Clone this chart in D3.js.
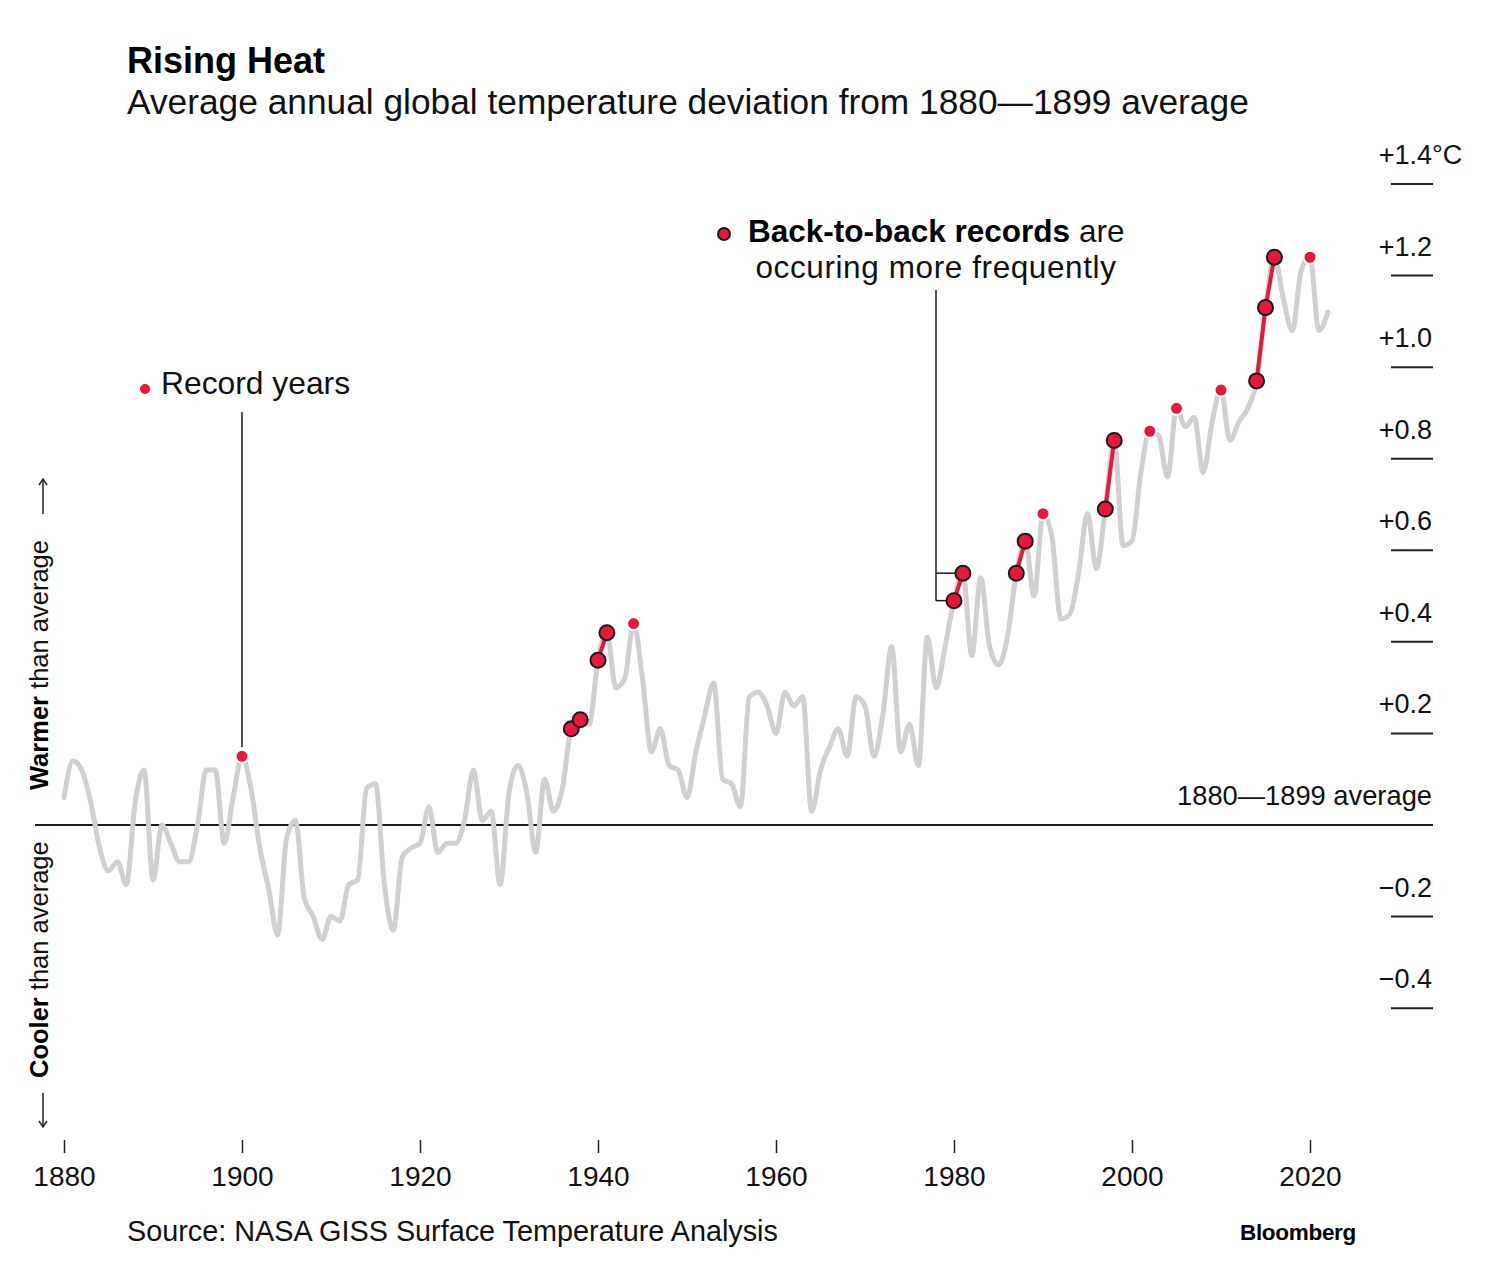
<!DOCTYPE html>
<html>
<head>
<meta charset="utf-8">
<script src="https://cdn.jsdelivr.net/npm/d3@7/dist/d3.min.js"></script>
<style>
  html, body { margin: 0; padding: 0; background: #fff; }
  svg { display: block; }
  text { font-family: "Liberation Sans", Arial, Helvetica, sans-serif; fill: #111; }
</style>
</head>
<body>
<svg id="chart" width="1492" height="1266"></svg>
<script>
// ---- DATA ----
const startYear = 1880;
// Annual deviation (°C) from the 1880–1899 average
const anomalies = [
  0.06, 0.14, 0.12, 0.05, -0.05, -0.10, -0.08, -0.13, 0.05, 0.12,   // 1880-1889
  -0.12, 0.00, -0.04, -0.08, -0.08, 0.00, 0.12, 0.12, -0.04, 0.06,  // 1890-1899
  0.15, 0.08, -0.05, -0.14, -0.24, -0.03, 0.01, -0.16, -0.20, -0.25, // 1900-1909
  -0.20, -0.21, -0.13, -0.12, 0.08, 0.09, -0.13, -0.23, -0.07, -0.05, // 1910-1919
  -0.04, 0.04, -0.06, -0.04, -0.04, 0.01, 0.12, 0.01, 0.03, -0.13,   // 1920-1929
  0.07, 0.13, 0.07, -0.06, 0.10, 0.03, 0.08, 0.21, 0.23, 0.22,       // 1930-1939
  0.36, 0.42, 0.30, 0.32, 0.44, 0.32, 0.16, 0.21, 0.13, 0.12,        // 1940-1949
  0.06, 0.16, 0.24, 0.31, 0.10, 0.09, 0.04, 0.28, 0.29, 0.26,        // 1950-1959
  0.20, 0.29, 0.26, 0.28, 0.03, 0.12, 0.17, 0.21, 0.15, 0.28,        // 1960-1969
  0.26, 0.15, 0.24, 0.39, 0.16, 0.22, 0.13, 0.41, 0.30, 0.39,        // 1970-1979
  0.49, 0.55, 0.37, 0.54, 0.39, 0.35, 0.41, 0.55, 0.62, 0.50,        // 1980-1989
  0.68, 0.63, 0.45, 0.46, 0.55, 0.68, 0.56, 0.69, 0.84, 0.61,        // 1990-1999
  0.62, 0.77, 0.86, 0.85, 0.76, 0.91, 0.87, 0.89, 0.77, 0.88,        // 2000-2009
  0.95, 0.84, 0.88, 0.91, 0.97, 1.13, 1.24, 1.15, 1.08, 1.21,        // 2010-2019
  1.24, 1.08, 1.12                                                   // 2020-2022
];
const years = anomalies.map((_, i) => startYear + i);
const recordYears = [1900, 1937, 1938, 1940, 1941, 1944, 1980, 1981, 1987, 1988,
                     1990, 1997, 1998, 2002, 2005, 2010, 2014, 2015, 2016, 2020];
const xTickValues = [1880, 1900, 1920, 1940, 1960, 1980, 2000, 2020];
const yTickValues = [1.4, 1.2, 1.0, 0.8, 0.6, 0.4, 0.2, -0.2, -0.4];
const yTickLabels = ["+1.4", "+1.2", "+1.0", "+0.8", "+0.6", "+0.4", "+0.2", "\u22120.2", "\u22120.4"];

// ---- SETUP ----
const data = years.map((y, i) => ({ year: y, value: anomalies[i] }));
const valueByYear = new Map(data.map(d => [d.year, d.value]));

// group consecutive record years into back-to-back streaks
const streaks = [];
let cur = [];
recordYears.forEach((y) => {
  if (cur.length && y === cur[cur.length - 1] + 1) cur.push(y);
  else { if (cur.length > 1) streaks.push(cur); cur = [y]; }
});
if (cur.length > 1) streaks.push(cur);
const streakYears = new Set(streaks.flat());

const RED = "#e8173c";
const GRAY = "#d0d0d0";
const DARK = "#1a1a1a";

const svg = d3.select("#chart");
const x = d3.scaleLinear().domain([1880, 2020]).range([64, 1310]);
const y = d3.scaleLinear().domain([0, 1.4]).range([825, 184]);

// ---- TITLE ----
svg.append("text").attr("x", 127).attr("y", 73)
  .style("font-size", "36px").style("font-weight", "bold").style("fill", "#000")
  .text("Rising Heat");
svg.append("text").attr("x", 127).attr("y", 114)
  .style("font-size", "35.3px").style("fill", "#111")
  .text("Average annual global temperature deviation from 1880\u20141899 average");

// ---- RIGHT AXIS (ticks + labels) ----
const yAxisG = svg.append("g");
yTickValues.forEach((v, i) => {
  yAxisG.append("line")
    .attr("x1", 1391).attr("x2", 1433)
    .attr("y1", y(v)).attr("y2", y(v))
    .attr("stroke", "#222").attr("stroke-width", 2);
  yAxisG.append("text")
    .attr("x", 1432).attr("y", y(v) - 20)
    .attr("text-anchor", "end")
    .style("font-size", "27px")
    .text(yTickLabels[i]);
  if (i === 0) {
    yAxisG.append("text").attr("x", 1432).attr("y", y(v) - 20)
      .style("font-size", "27px").text("\u00B0C");
  }
});

// Zero / baseline
svg.append("line")
  .attr("x1", 35).attr("x2", 1433)
  .attr("y1", y(0)).attr("y2", y(0))
  .attr("stroke", DARK).attr("stroke-width", 2);
svg.append("text").attr("x", 1432).attr("y", y(0) - 20)
  .attr("text-anchor", "end").style("font-size", "27.3px")
  .text("1880\u20141899 average");

// ---- X AXIS ----
const xAxis = d3.axisBottom(x).tickValues(xTickValues).tickFormat(d3.format("d")).tickSize(13);
const xg = svg.append("g").attr("transform", "translate(0,1140)").call(xAxis);
xg.select(".domain").remove();
xg.selectAll(".tick line").attr("stroke", "#222").attr("stroke-width", 1.5);
xg.selectAll(".tick text")
  .attr("y", 46).attr("dy", 0)
  .style("font-size", "28px").style("font-family", "'Liberation Sans', Arial, sans-serif")
  .style("fill", "#111");

// ---- LINE ----
const line = d3.line()
  .x(d => x(d.year))
  .y(d => y(d.value))
  .curve(d3.curveMonotoneX);

svg.append("path")
  .datum(data)
  .attr("fill", "none")
  .attr("stroke", GRAY)
  .attr("stroke-width", 5)
  .attr("stroke-linejoin", "round")
  .attr("stroke-linecap", "round")
  .attr("d", line);

// ---- ANNOTATIONS (leaders) ----
// Record years
svg.append("line")
  .attr("x1", x(1900)).attr("x2", x(1900))
  .attr("y1", 412).attr("y2", y(valueByYear.get(1900)) - 9)
  .attr("stroke", DARK).attr("stroke-width", 1.5);
svg.append("circle").attr("cx", 145).attr("cy", 389).attr("r", 5).attr("fill", RED);
svg.append("text").attr("x", 161).attr("y", 394)
  .style("font-size", "31.8px").text("Record years");

// Back-to-back
const bx = 936;
svg.append("line")
  .attr("x1", bx).attr("x2", bx)
  .attr("y1", 290).attr("y2", y(valueByYear.get(1980)))
  .attr("stroke", DARK).attr("stroke-width", 1.5);
svg.append("line")
  .attr("x1", bx).attr("x2", x(1980))
  .attr("y1", y(valueByYear.get(1980))).attr("y2", y(valueByYear.get(1980)))
  .attr("stroke", DARK).attr("stroke-width", 1.5);
svg.append("line")
  .attr("x1", bx).attr("x2", x(1981))
  .attr("y1", y(valueByYear.get(1981))).attr("y2", y(valueByYear.get(1981)))
  .attr("stroke", DARK).attr("stroke-width", 1.5);

svg.append("circle").attr("cx", 724).attr("cy", 234).attr("r", 6)
  .attr("fill", RED).attr("stroke", DARK).attr("stroke-width", 2);
const t1 = svg.append("text").attr("x", 748).attr("y", 242).style("font-size", "31.5px");
t1.append("tspan").style("font-weight", "bold").style("fill", "#000").text("Back-to-back records");
t1.append("tspan").text(" are");
svg.append("text").attr("x", bx).attr("y", 278).attr("text-anchor", "middle")
  .style("font-size", "31.5px").style("letter-spacing", "0.6px")
  .text("occuring more frequently");

// ---- STREAK LINES ----
streaks.forEach(s => {
  svg.append("path")
    .datum(s.map(yr => ({ year: yr, value: valueByYear.get(yr) })))
    .attr("fill", "none")
    .attr("stroke", RED)
    .attr("stroke-width", 4)
    .attr("d", d3.line().x(d => x(d.year)).y(d => y(d.value)));
});

// ---- RECORD DOTS ----
const recData = recordYears.map(yr => ({ year: yr, value: valueByYear.get(yr) }));
svg.append("g").selectAll("circle")
  .data(recData.filter(d => !streakYears.has(d.year)))
  .join("circle")
  .attr("cx", d => x(d.year)).attr("cy", d => y(d.value))
  .attr("r", 6.5).attr("fill", RED).attr("stroke", "#fff").attr("stroke-width", 2);
svg.append("g").selectAll("circle")
  .data(recData.filter(d => streakYears.has(d.year)))
  .join("circle")
  .attr("cx", d => x(d.year)).attr("cy", d => y(d.value))
  .attr("r", 7.5).attr("fill", RED).attr("stroke", DARK).attr("stroke-width", 2);

// ---- LEFT VERTICAL LABELS ----
function vLabel(yStart, boldWord) {
  const t = svg.append("text")
    .attr("transform", `translate(48,${yStart}) rotate(-90)`)
    .style("font-size", "25.5px");
  t.append("tspan").style("font-weight", "bold").style("fill", "#000").text(boldWord);
  t.append("tspan").text(" than average");
}
vLabel(790, "Warmer");
vLabel(1078, "Cooler");

// arrows
function arrow(x0, y0, y1) {
  const dir = Math.sign(y1 - y0);
  svg.append("line").attr("x1", x0).attr("x2", x0).attr("y1", y0).attr("y2", y1)
    .attr("stroke", "#222").attr("stroke-width", 1.5);
  svg.append("path")
    .attr("d", `M${x0 - 4},${y1 - dir * 6} L${x0},${y1} L${x0 + 4},${y1 - dir * 6}`)
    .attr("fill", "none").attr("stroke", "#222").attr("stroke-width", 1.5);
}
arrow(43, 514, 479);
arrow(43, 1093, 1127);

// ---- FOOTER ----
svg.append("text").attr("x", 127).attr("y", 1241)
  .style("font-size", "28.8px").text("Source: NASA GISS Surface Temperature Analysis");
svg.append("text").attr("x", 1356).attr("y", 1240).attr("text-anchor", "end")
  .style("font-size", "22.5px").style("font-weight", "bold").style("fill", "#000")
  .style("letter-spacing", "-0.3px")
  .text("Bloomberg");
</script>
</body>
</html>
